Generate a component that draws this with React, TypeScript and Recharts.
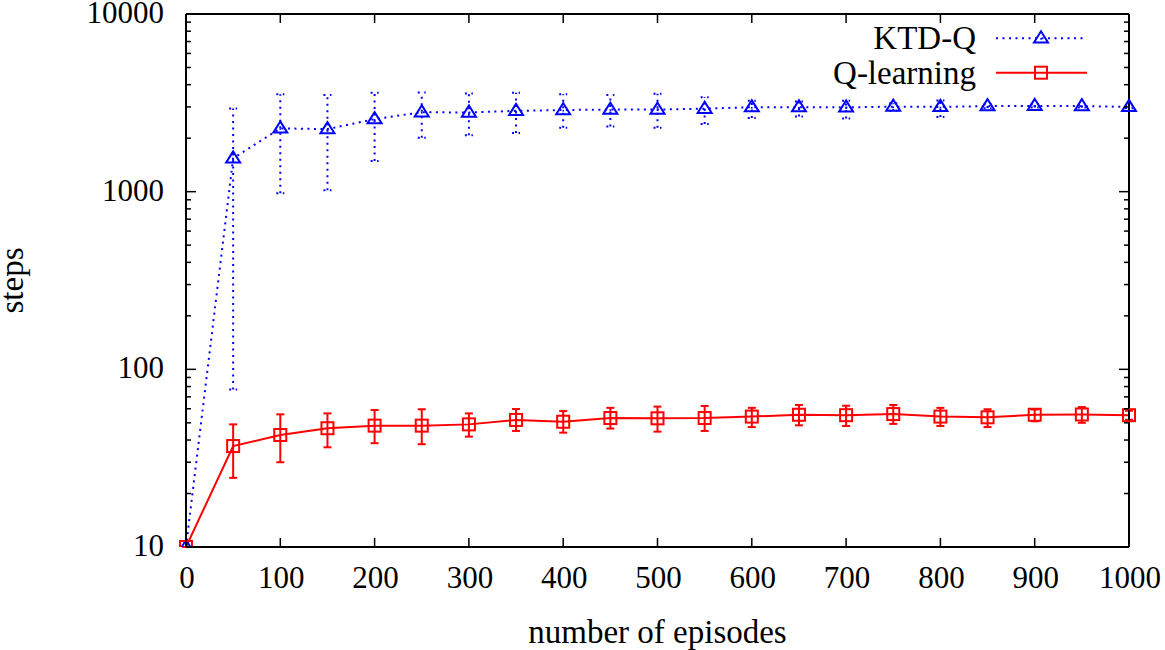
import React from 'react';
import { ComposedChart, Line, XAxis, YAxis, ErrorBar } from 'recharts';

const episodes = [0, 50, 100, 150, 200, 250, 300, 350, 400, 450, 500, 550, 600, 650, 700, 750, 800, 850, 900, 950, 1000];
const ktdMean = [10, 1540, 2270, 2250, 2560, 2800, 2790, 2850, 2880, 2900, 2900, 2930, 2990, 2990, 2980, 3010, 3000, 3030, 3040, 3030, 3000];
const ktdLow = [10, 77, 980, 1020, 1490, 2010, 2080, 2140, 2290, 2330, 2290, 2400, 2600, 2650, 2580, 2850, 2630, 2950, 2980, 2980, 2950];
const ktdHigh = [10, 2940, 3540, 3500, 3600, 3620, 3570, 3600, 3540, 3500, 3560, 3400, 3250, 3220, 3250, 3150, 3260, 3100, 3100, 3080, 3050];
const qMean = [10, 37, 42.7, 46.6, 48.2, 48.2, 49, 51.9, 50.7, 53.2, 53, 53.2, 54.2, 55.5, 55.2, 56, 54.2, 53.7, 55.5, 55.7, 55.2];
const qLow = [10, 24.5, 30, 36.4, 38.4, 37.9, 41.8, 45, 44, 46.4, 44.6, 45, 47.3, 48.4, 48, 49.3, 48, 47.3, 51, 50, 52];
const qHigh = [10, 49, 55.8, 56.5, 59, 59.6, 56.5, 59.8, 58.2, 60.7, 61.7, 62.2, 60.7, 63, 62.4, 63, 60.7, 59.6, 59.4, 61.3, 58.5];

const xTicks = [0, 100, 200, 300, 400, 500, 600, 700, 800, 900, 1000];
const yTicks = [10, 20, 30, 40, 50, 60, 70, 80, 90, 100, 200, 300, 400, 500, 600, 700, 800, 900, 1000, 2000, 3000, 4000, 5000, 6000, 7000, 8000, 9000, 10000];
const yMajor = [10, 100, 1000, 10000];
const seriesNames = ['KTD-Q', 'Q-learning'];

const data = episodes.map((e, i) => ({
  ep: e,
  ktd: ktdMean[i],
  ktdErr: [ktdMean[i] - ktdLow[i], ktdHigh[i] - ktdMean[i]],
  q: qMean[i],
  qErr: [qMean[i] - qLow[i], qHigh[i] - qMean[i]],
}));

const FONT = '"Liberation Serif", "Times New Roman", serif';
const TICK_FS = 31;
const TITLE_FS = 33;
const BLUE = '#0000ff';
const RED = '#ff0000';

const Triangle = ({ cx, cy }: any) => {
  if (cx == null || cy == null) return null;
  const s = 7;
  return (
    <g>
      <polygon points={`${cx},${cy - s} ${cx - s},${cy + s * 0.6} ${cx + s},${cy + s * 0.6}`} fill="none" stroke={BLUE} strokeWidth={2} />
      <rect x={cx - 0.8} y={cy - 0.2} width={1.6} height={1.6} fill={BLUE} />
    </g>
  );
};

const Square = ({ cx, cy }: any) => {
  if (cx == null || cy == null) return null;
  const s = 6;
  return <rect x={cx - s} y={cy - s} width={2 * s} height={2 * s} fill="none" stroke={RED} strokeWidth={2} />;
};

const LeftTick = ({ x, y, payload }: any) => {
  const major = yMajor.includes(payload.value);
  return (
    <g>
      <line x1={x} y1={y} x2={x + (major ? 10 : 5)} y2={y} stroke="#000" strokeWidth={1.5} />
      {major && (
        <text x={x - 22} y={y + 9} textAnchor="end" fontFamily={FONT} fontSize={TICK_FS} fill="#000">
          {payload.value}
        </text>
      )}
    </g>
  );
};

const RightTick = ({ x, y, payload }: any) => {
  const major = yMajor.includes(payload.value);
  return <line x1={x} y1={y} x2={x - (major ? 10 : 5)} y2={y} stroke="#000" strokeWidth={1.5} />;
};

const BottomTick = ({ x, y, payload }: any) => (
  <g>
    <line x1={x} y1={y} x2={x} y2={y - 9} stroke="#000" strokeWidth={1.5} />
    <text x={x + 1} y={y + 41} textAnchor="middle" fontFamily={FONT} fontSize={TICK_FS} fill="#000">
      {payload.value}
    </text>
  </g>
);

const TopTick = ({ x, y }: any) => <line x1={x} y1={y} x2={x} y2={y + 9} stroke="#000" strokeWidth={1.5} />;

const LegendBox = () => (
  <svg width={300} height={80} style={{ position: 'absolute', left: 820, top: 14, overflow: 'visible' }}>
    <text x={156} y={35} textAnchor="end" fontFamily={FONT} fontSize={TITLE_FS} fill="#000">{seriesNames[0]}</text>
    <line x1={176} y1={24.3} x2={267} y2={24.3} stroke={BLUE} strokeWidth={2} strokeDasharray="2 4.5" />
    <Triangle cx={221} cy={24.3} />
    <text x={156} y={70} textAnchor="end" fontFamily={FONT} fontSize={TITLE_FS} fill="#000">{seriesNames[1]}</text>
    <line x1={176} y1={58.7} x2={267} y2={58.7} stroke={RED} strokeWidth={2} />
    <Square cx={221} cy={58.7} />
  </svg>
);

export default function App() {
  return (
    <div style={{ position: 'absolute', left: 0, top: 0, width: 1165, height: 650, background: '#fff' }}>
      <ComposedChart width={1165} height={650} data={data} margin={{ top: 13, right: 35, bottom: 0, left: 0 }}>
        <XAxis
          xAxisId="bottom"
          dataKey="ep"
          type="number"
          domain={[0, 1000]}
          ticks={xTicks}
          interval={0}
          height={103}
          tickSize={0}
          tickMargin={0}
          tickLine={false}
          tick={<BottomTick />}
          axisLine={{ stroke: '#000', strokeWidth: 2 }}
          label={{
            content: ({ viewBox }: any) => (
              <text x={viewBox.x + viewBox.width / 2} y={viewBox.y + 96} textAnchor="middle" fontFamily={FONT} fontSize={TITLE_FS} fill="#000">
                number of episodes
              </text>
            ),
          }}
        />
        <XAxis
          xAxisId="top"
          dataKey="ep"
          type="number"
          orientation="top"
          domain={[0, 1000]}
          ticks={xTicks}
          interval={0}
          height={1}
          tickSize={0}
          tickMargin={0}
          tickLine={false}
          tick={<TopTick />}
          axisLine={{ stroke: '#000', strokeWidth: 2 }}
        />
        <YAxis
          yAxisId="left"
          type="number"
          scale="log"
          domain={[10, 10000]}
          allowDataOverflow
          ticks={yTicks}
          interval={0}
          width={186}
          tickSize={0}
          tickMargin={0}
          tickLine={false}
          tick={<LeftTick />}
          axisLine={{ stroke: '#000', strokeWidth: 2 }}
          label={{
            content: ({ viewBox }: any) => {
              const cx = viewBox.x + 23;
              const cy = viewBox.y + viewBox.height / 2;
              return (
                <text x={cx} y={cy} transform={`rotate(-90 ${cx} ${cy})`} textAnchor="middle" fontFamily={FONT} fontSize={TITLE_FS} fill="#000">
                  steps
                </text>
              );
            },
          }}
        />
        <YAxis
          yAxisId="right"
          orientation="right"
          type="number"
          scale="log"
          domain={[10, 10000]}
          allowDataOverflow
          ticks={yTicks}
          interval={0}
          width={1}
          tickSize={0}
          tickMargin={0}
          tickLine={false}
          tick={<RightTick />}
          axisLine={{ stroke: '#000', strokeWidth: 2 }}
        />
        <Line
          xAxisId="bottom"
          yAxisId="left"
          type="linear"
          dataKey="ktd"
          name={seriesNames[0]}
          stroke={BLUE}
          strokeWidth={2}
          strokeDasharray="2 4.5"
          dot={<Triangle />}
          activeDot={false}
          isAnimationActive={false}
        >
          <ErrorBar dataKey="ktdErr" direction="y" width={4} stroke={BLUE} strokeWidth={2} strokeDasharray="2 4.5" isAnimationActive={false} />
        </Line>
        <Line
          xAxisId="bottom"
          yAxisId="left"
          type="linear"
          dataKey="q"
          name={seriesNames[1]}
          stroke={RED}
          strokeWidth={2}
          dot={<Square />}
          activeDot={false}
          isAnimationActive={false}
        >
          <ErrorBar dataKey="qErr" direction="y" width={4} stroke={RED} strokeWidth={2} isAnimationActive={false} />
        </Line>
      </ComposedChart>
      <LegendBox />
    </div>
  );
}
